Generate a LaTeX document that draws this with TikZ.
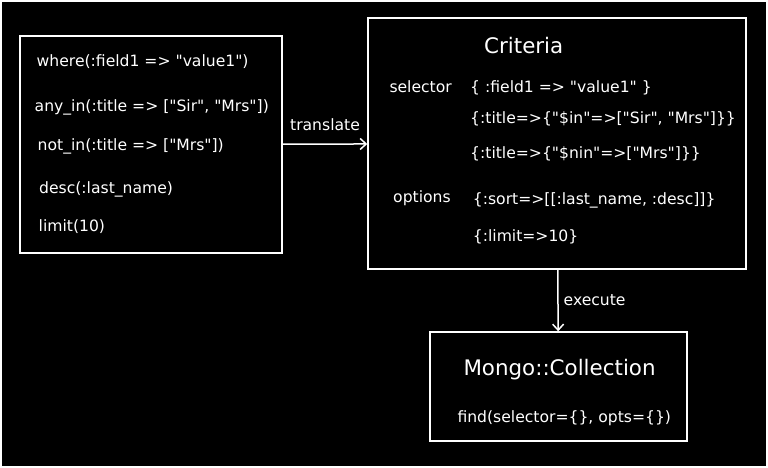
\documentclass[tikz,border=0pt]{standalone}
\usepackage{fontspec}
\setmainfont{DejaVu Sans}[Ligatures=TeXOff]
\usetikzlibrary{positioning,arrows.meta}

\begin{document}
\begin{tikzpicture}[x=1pt,y=-1pt,
  box/.style={draw=white,line width=1.5pt,inner sep=0pt},
  code/.style={text=white,font=\fontsize{15.6}{18}\selectfont,anchor=base west,inner sep=0pt},
  head/.style={text=white,font=\fontsize{21.4}{25}\selectfont,anchor=base west,inner sep=0pt},
  link/.style={draw=white,line width=1.5pt,-{Straight Barb[length=6pt,width=11pt]}}]
  \fill[white] (0,0) rectangle (768,468);
  \fill[black] (2,2) rectangle (766,466);
  % boxes
  \node[box,minimum width=262pt,minimum height=217pt] (query) at (151,144.5) {};
  \node[box,minimum width=378pt,minimum height=251pt] (criteria) at (557,143.5) {};
  \node[box,minimum width=257pt,minimum height=109pt] (mongo) at (558.5,386.5) {};
  % query methods
  \node[code] (where) at (36.5,66.7) {where(:field1 => "value1")};
  \node[code] (anyin) at (34.5,111.7) {any\_in(:title => ["Sir", "Mrs"])};
  \node[code] (notin) at (37.5,150) {not\_in(:title => ["Mrs"])};
  \node[code] (desc) at (39,193) {desc(:last\_name)};
  \node[code] (limit) at (38.5,231.7) {limit(10)};
  % criteria contents
  \node[head] (crithead) at (484,53.3) {Criteria};
  \node[code] (selector) at (389.3,92.3) {selector};
  \node[code] (sel1) at (470,92.3) {\{ :field1 => "value1" \}};
  \node[code] (sel2) at (470,124) {\{:title=>\{"\$in"=>["Sir", "Mrs"]\}\}};
  \node[code] (sel3) at (470,158.3) {\{:title=>\{"\$nin"=>["Mrs"]\}\}};
  \node[code] (options) at (393,202.3) {options};
  \node[code] (opt1) at (472.7,204) {\{:sort=>[[:last\_name, :desc]]\}};
  \node[code] (opt2) at (472.7,241.7) {\{:limit=>10\}};
  % collection
  \node[head] (mongohead) at (463.3,375) {Mongo::Collection};
  \node[code] (find) at (457.3,422.7) {find(selector=\{\}, opts=\{\})};
  % arrows
  \draw[link] (query) -- node[code,anchor=south,yshift=13pt] (translate) {translate} (criteria);
  \draw[link] (criteria) -- node[code,anchor=west,xshift=5pt] (execute) {execute} (mongo);
\end{tikzpicture}
\end{document}
